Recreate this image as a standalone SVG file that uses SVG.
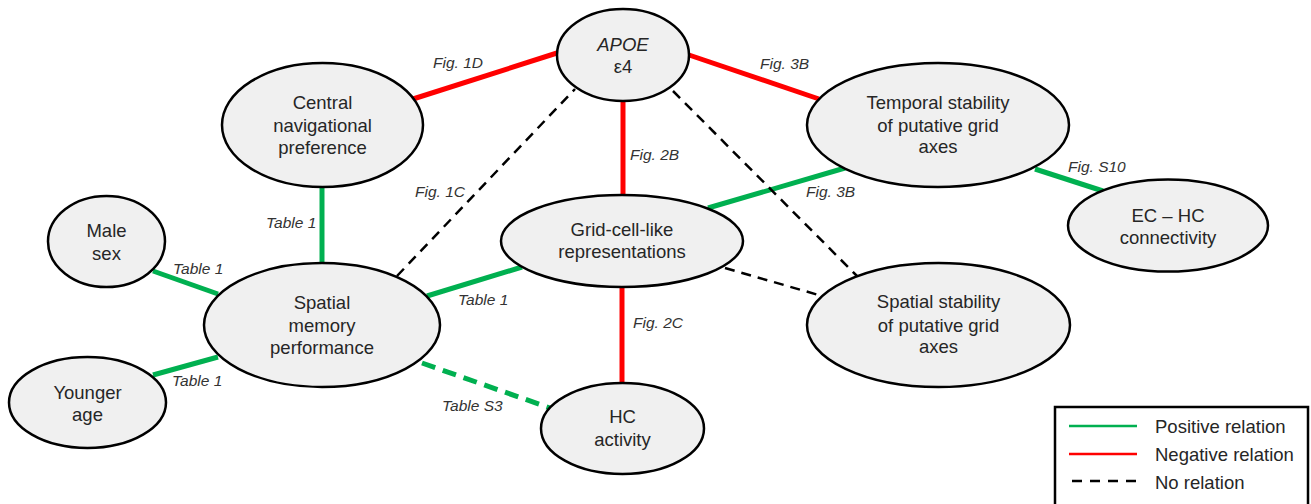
<svg xmlns="http://www.w3.org/2000/svg" width="1311" height="504" viewBox="0 0 1311 504">
<style>
.node ellipse{fill:#f0f0f0;stroke:#000;stroke-width:2.5}
.t{font-family:"Liberation Sans",Arial,sans-serif;font-size:18.5px;fill:#262626;text-anchor:middle}
.lab{font-family:"Liberation Sans",Arial,sans-serif;font-size:15.5px;font-style:italic;fill:#333}
.pos{stroke:#00b050;stroke-width:5;fill:none}
.neg{stroke:#ff0000;stroke-width:5;fill:none}
.none{stroke:#000;stroke-width:2.5;stroke-dasharray:10 7;fill:none}
.posd{stroke:#00b050;stroke-width:5;stroke-dasharray:14 8;fill:none}
.leg{font-family:"Liberation Sans",Arial,sans-serif;font-size:18.5px;fill:#262626}
</style>
<rect width="1311" height="504" fill="#fff"/>
<g id="connectors">
<line class="neg" x1="413" y1="99" x2="557" y2="53"/>
<line class="neg" x1="689" y1="55" x2="819" y2="99"/>
<line class="neg" x1="623" y1="101" x2="623" y2="195"/>
<line class="neg" x1="622" y1="287" x2="622" y2="383"/>
<line class="pos" x1="322" y1="187" x2="322" y2="263"/>
<line class="pos" x1="153" y1="271" x2="218" y2="294"/>
<line class="pos" x1="153" y1="375" x2="218" y2="357"/>
<line class="pos" x1="427" y1="296" x2="522" y2="267"/>
<line class="pos" x1="708" y1="208" x2="845" y2="168"/>
<line class="pos" x1="1035" y1="169" x2="1103" y2="191"/>
<line class="posd" x1="422" y1="363" x2="550" y2="408"/>
<line class="none" x1="397" y1="276" x2="575" y2="89"/>
<line class="none" x1="673" y1="91" x2="857" y2="276"/>
<line class="none" x1="725" y1="268" x2="822" y2="296"/>
<text class="lab" x="433" y="68">Fig. 1D</text>
<text class="lab" x="760" y="69">Fig. 3B</text>
<text class="lab" x="630" y="160">Fig. 2B</text>
<text class="lab" x="415" y="197">Fig. 1C</text>
<text class="lab" x="806" y="197">Fig. 3B</text>
<text class="lab" x="1068" y="172">Fig. S10</text>
<text class="lab" x="266" y="228">Table 1</text>
<text class="lab" x="173" y="274">Table 1</text>
<text class="lab" x="458" y="305">Table 1</text>
<text class="lab" x="633" y="328">Fig. 2C</text>
<text class="lab" x="172" y="386">Table 1</text>
<text class="lab" x="442" y="411">Table S3</text>
</g>
<g id="apoe" class="node"><ellipse cx="623" cy="55" rx="66" ry="46"/><text class="t" x="623" y="51" font-style="italic">APOE</text><text class="t" x="623" y="73">ε4</text></g>
<g id="central" class="node"><ellipse cx="322.5" cy="125" rx="100.5" ry="62"/><text class="t" x="322.5" y="109">Central</text><text class="t" x="322.5" y="132">navigational</text><text class="t" x="322.5" y="154">preference</text></g>
<g id="temporal" class="node"><ellipse cx="938" cy="125" rx="131" ry="62"/><text class="t" x="938" y="109">Temporal stability</text><text class="t" x="938" y="132">of putative grid</text><text class="t" x="938" y="153">axes</text></g>
<g id="male" class="node"><ellipse cx="106.5" cy="241.5" rx="58.5" ry="45.5"/><text class="t" x="106.5" y="237">Male</text><text class="t" x="106.5" y="260">sex</text></g>
<g id="grid" class="node"><ellipse cx="622" cy="241" rx="121" ry="46"/><text class="t" x="622" y="236">Grid-cell-like</text><text class="t" x="622" y="258">representations</text></g>
<g id="echc" class="node"><ellipse cx="1168" cy="225.5" rx="100" ry="46"/><text class="t" x="1168" y="222">EC – HC</text><text class="t" x="1168" y="244">connectivity</text></g>
<g id="spatialmem" class="node"><ellipse cx="322" cy="325" rx="118" ry="62"/><text class="t" x="322" y="309">Spatial</text><text class="t" x="322" y="332">memory</text><text class="t" x="322" y="354">performance</text></g>
<g id="spatialstab" class="node"><ellipse cx="938.5" cy="325" rx="131.5" ry="62"/><text class="t" x="938.5" y="308">Spatial stability</text><text class="t" x="938.5" y="332">of putative grid</text><text class="t" x="938.5" y="353">axes</text></g>
<g id="younger" class="node"><ellipse cx="87.5" cy="402.5" rx="78.5" ry="45.5"/><text class="t" x="87.5" y="399">Younger</text><text class="t" x="87.5" y="421">age</text></g>
<g id="hc" class="node"><ellipse cx="622.5" cy="428.5" rx="81.5" ry="45.5"/><text class="t" x="622.5" y="423">HC</text><text class="t" x="622.5" y="446">activity</text></g>
<g id="legend">
<rect x="1055" y="407" width="253" height="100" fill="#fff" stroke="#000" stroke-width="2.5"/>
<line x1="1069" y1="426" x2="1137" y2="426" stroke="#00b050" stroke-width="2.5"/>
<line x1="1069" y1="454" x2="1137" y2="454" stroke="#ff0000" stroke-width="2.5"/>
<line x1="1072" y1="481" x2="1137" y2="481" stroke="#000" stroke-width="2.5" stroke-dasharray="10 8"/>
<text class="leg" x="1155" y="433">Positive relation</text>
<text class="leg" x="1155" y="461">Negative relation</text>
<text class="leg" x="1155" y="489">No relation</text>
</g>
</svg>
